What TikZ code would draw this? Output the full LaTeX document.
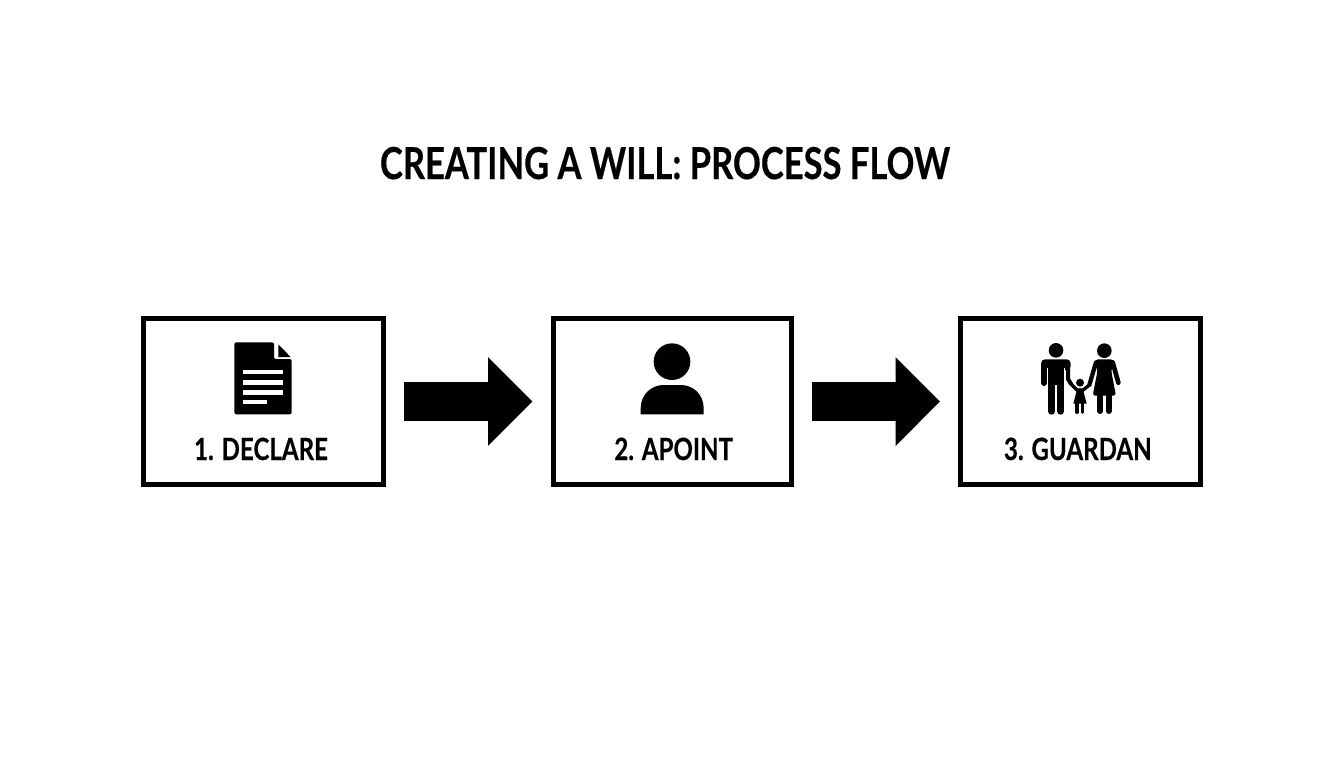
\documentclass[tikz,border=0pt]{standalone}
\usepackage{fontspec}
\usetikzlibrary{arrows.meta}
\newfontfamily\titlefont[FakeStretch=0.785,FakeBold=0.4]{Lato Bold}
\tikzset{
  stepbox/.style={draw=black,fill=white,line width=3.75pt,outer sep=0pt,inner sep=0pt,minimum height=124.5pt,rectangle},
  steplabel/.style={anchor=base,font=\titlefont\fontsize{23}{23}\selectfont,text=black,inner sep=0pt},
  titletext/.style={anchor=base,font=\titlefont\fontsize{33}{33}\selectfont,text=black,inner sep=0pt},
  blockarrow/.style={line width=28.8pt,draw=black,line cap=butt,-{Triangle[length=33.3pt,width=64.5pt]},shorten <=15.5pt,shorten >=15.4pt,transform canvas={yshift=-0.4pt}},
  limb/.style={draw=black,line cap=round,line join=round},
  icon/.style={fill=black,draw=none},
}
\begin{document}
\begin{tikzpicture}[x=0.75pt,y=-0.75pt]
\useasboundingbox (0,0) rectangle (1344,768);
\fill[white] (0,0) rectangle (1344,768);
\node[titletext] (title) at (665,179) {CREATING A WILL: PROCESS FLOW};
\node[stepbox,minimum width=180pt] (b1) at (263.4,401) {};
\node[stepbox,minimum width=178.5pt] (b2) at (672,401) {};
\node[stepbox,minimum width=179.6pt] (b3) at (1080.3,401) {};
\draw[blockarrow] (b1) -- (b2);
\draw[blockarrow] (b2) -- (b3);
\node[steplabel] (l1) at (261,460) {1. DECLARE};
\node[steplabel] (l2) at (673.7,460) {2. APOINT};
\node[steplabel] (l3) at (1077.8,460) {3. GUARDAN};
% document icon
\begin{scope}[shift={(130,305)},x=0.25pt,y=-0.25pt]
\fill[icon,rounded corners=1.5pt] (313,112) -- (432,112) -- (432,162) -- (485,162) -- (485,328) -- (313,328) -- cycle;
\fill[icon] (445,118) -- (482,156) -- (445,156) -- cycle;
\fill[white] (338,195) rectangle (460,208);
\fill[white] (338,225) rectangle (460,240);
\fill[white] (338,255) rectangle (460,269);
\fill[white] (338,285) rectangle (412,298);
\end{scope}
% person icon
\begin{scope}[shift={(545,305)},x=0.25pt,y=-0.25pt]
\fill[icon] (381,170) circle[radius=55];
\fill[icon] (287,328) -- (287,310) .. controls (287,268) and (320,240) .. (355,240) -- (408,240) .. controls (444,240) and (476,268) .. (476,310) -- (476,328) -- cycle;
\end{scope}
% family icon
\begin{scope}[shift={(950,305)},x=0.25pt,y=-0.25pt]
\fill[icon] (318,136) circle[radius=22];
\fill[icon] (463,137) circle[radius=22];
\fill[icon] (390,233) circle[radius=12];
% man
\fill[icon,rounded corners=3pt] (273,195) -- (273,163) -- (362,163) -- (362,195) -- cycle;
\fill[icon] (295,170) rectangle (343,240);
\fill[white] (291,190) rectangle (295,250);
\fill[white] (343,190) rectangle (346,250);
\draw[limb,line width=4.5pt] (282,185) -- (282,234);
\draw[limb,line width=5pt] (305,220) -- (305,319);
\draw[limb,line width=5pt] (332,220) -- (332,319);
\draw[limb,line width=3pt] (354,185) -- (354,222) -- (364,238);
% child
\draw[limb,line width=2.5pt] (364,238) -- (382,256) -- (398,256) -- (418,240);
\fill[icon] (382,250) -- (398,250) -- (410,296) -- (370,296) -- cycle;
\draw[limb,line width=2.5pt] (381,290) -- (381,322);
\draw[limb,line width=2.5pt] (397,290) -- (397,322);
% woman
\fill[icon,rounded corners=2pt] (436,163) -- (490,163) -- (484,200) -- (498,272) -- (428,272) -- (442,200) -- cycle;
\draw[limb,line width=3.2pt] (438,172) -- (418,240);
\draw[limb,line width=3.5pt] (488,172) -- (505,233);
\draw[limb,line width=4.5pt] (451,265) -- (451,318);
\draw[limb,line width=4.5pt] (476,265) -- (476,318);
\end{scope}
\end{tikzpicture}
\end{document}
